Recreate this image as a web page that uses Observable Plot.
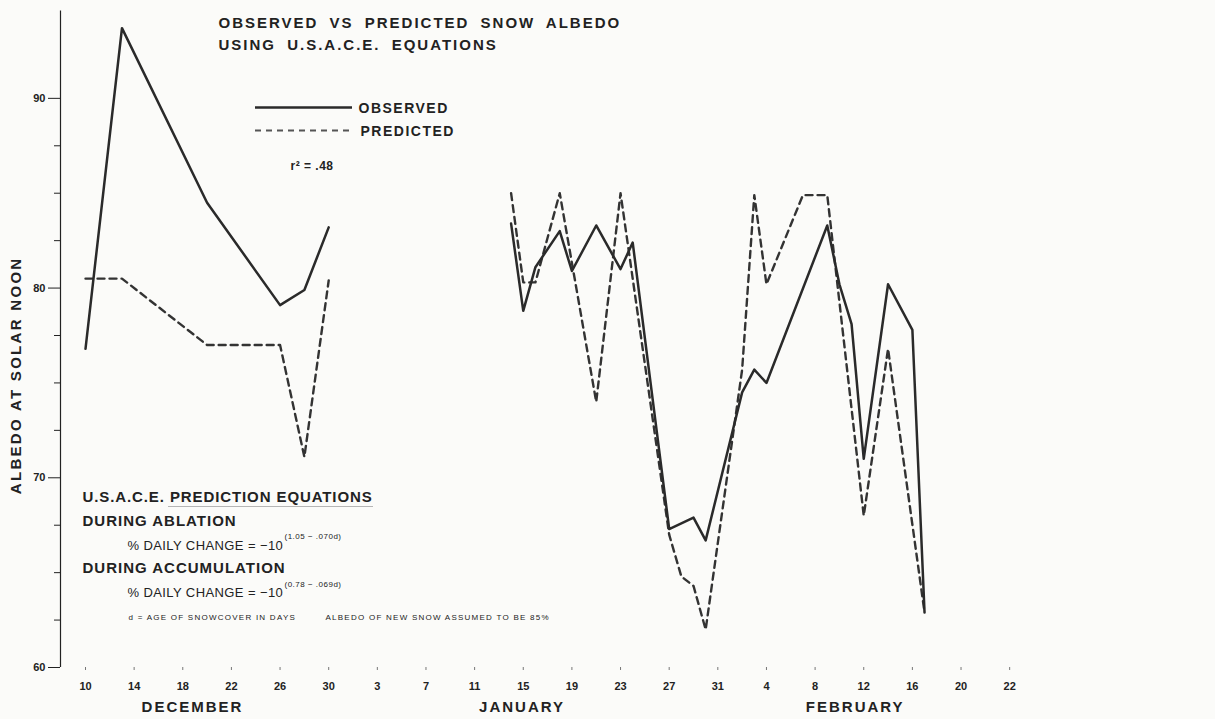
<!DOCTYPE html>
<html><head><meta charset="utf-8">
<script src="https://cdn.jsdelivr.net/npm/d3@7"></script>
<script src="https://cdn.jsdelivr.net/npm/@observablehq/plot@0.6"></script>
<style>
html,body{margin:0;padding:0;background:#fbfbf9;}
#chart{width:1215px;height:719px;overflow:hidden;}
</style></head><body><div id="chart"></div>
<script>
// x = days after December 10 (readings from the figure)
const observedDays   = [0, 3, 10, 16, 18, 20, 27, 35, 36, 37, 39, 40, 42, 44, 45, 48, 50, 51, 54, 55, 56, 61, 62, 63, 64, 66, 68, 69];
const observedAlbedo = [76.8, 93.7, 84.5, 79.1, 79.9, 83.2, null, 83.4, 78.8, 81.1, 83.0, 80.9, 83.3, 81.0, 82.4, 67.3, 67.9, 66.7, 74.5, 75.7, 75.0, 83.3, 80.2, 78.1, 71.0, 80.2, 77.8, 62.9];
const predictedDays   = [0, 3, 10, 16, 18, 20, 27, 35, 36, 37, 39, 42, 44, 48, 49, 50, 51, 54, 55, 56, 59, 61, 64, 66, 69];
const predictedAlbedo = [80.5, 80.5, 77.0, 77.0, 71.1, 80.4, null, 85.0, 80.3, 80.3, 85.0, 74.0, 85.0, 67.0, 64.8, 64.3, 62.0, 75.7, 84.9, 80.2, 84.9, 84.9, 68.0, 76.8, 62.9];

const tickDays   = [0, 4, 8, 12, 16, 20, 24, 28, 32, 36, 40, 44, 48, 52, 56, 60, 64, 68, 72, 76];
const tickLabels = ["10","14","18","22","26","30","3","7","11","15","19","23","27","31","4","8","12","16","20","22"];
const monthNames   = ["DECEMBER", "JANUARY", "FEBRUARY"];
const monthCenters = [8.8, 35.9, 63.3];
const yMajor = [60, 70, 80, 90];
const yMinor = [62.5, 65, 67.5, 72.5, 75, 77.5, 82.5, 85, 87.5];

const observed  = observedDays.map((d, i) => ({day: d, albedo: observedAlbedo[i]}));
const predicted = predictedDays.map((d, i) => ({day: d, albedo: predictedAlbedo[i]}));
const labelMap = new Map(tickDays.map((d, i) => [d, tickLabels[i]]));

const W = 1215, H = 719, ML = 60, MR = 130, MT = 3, MB = 52;
const K = 12.16;                       // px per day
const xMin = -25 / K, xMax = xMin + (W - ML - MR) / K;
const yLo = 60, yHi = 95;
const invX = px => xMin + (px - ML) / K;
const invY = py => yHi - (py - MT) * (yHi - yLo) / (H - MT - MB);
const ink = "#222";
const font = "Liberation Sans, Arial, Helvetica, sans-serif";

const spacing = new Map();   // text -> letter-spacing
function label(t, x, y, o = {}, ls = null) {
  if (ls) spacing.set(t, ls);
  return Plot.text([t], {frameAnchor: "top-left", dx: x - ML, dy: y - MT, text: d => d,
    textAnchor: "start", lineAnchor: "middle", fill: ink, ...o});
}
monthNames.forEach(m => spacing.set(m, "2px"));
spacing.set("ALBEDO AT SOLAR NOON", "2.3px");

const plot = Plot.plot({
  width: W, height: H,
  marginLeft: ML, marginRight: MR, marginTop: MT, marginBottom: MB,
  style: {background: "#fbfbf9", fontFamily: font, color: ink},
  x: {domain: [xMin, xMax]},
  y: {domain: [yLo, yHi]},
  marks: [
    Plot.ruleX([xMin], {y1: 60, y2: 94.6, stroke: ink, strokeWidth: 1.2}),
    Plot.axisY({ticks: yMajor, tickSize: 12, tickPadding: 3, fontWeight: "bold", fontSize: 11, label: null, stroke: ink}),
    Plot.axisY({ticks: yMinor, tickSize: 6, tickFormat: () => "", label: null, stroke: ink}),
    Plot.axisX({ticks: tickDays, tickFormat: d => labelMap.get(d), tickSize: 3, tickPadding: 12,
      fontWeight: "bold", fontSize: 11, label: null, stroke: "#777"}),
    Plot.text(monthNames.map((m, i) => ({m, x: monthCenters[i]})), {x: "x", text: "m", frameAnchor: "bottom",
      dy: 44, fontWeight: "bold", fontSize: 15, fill: ink}),
    Plot.text(["ALBEDO AT SOLAR NOON"], {y: [75.4], text: d => d, frameAnchor: "left", dx: -44, rotate: -90,
      textAnchor: "middle", fontWeight: "bold", fontSize: 15, fill: ink}),
    // title
    label("OBSERVED VS PREDICTED SNOW ALBEDO", 218, 23, {fontWeight: "bold", fontSize: 15}, "2px"),
    label("USING U.S.A.C.E. EQUATIONS", 218, 45, {fontWeight: "bold", fontSize: 15}, "2px"),
    // legend
    Plot.ruleY([invY(107)], {x1: invX(255), x2: invX(352), stroke: "#2a2a2a", strokeWidth: 2.5}),
    Plot.ruleY([invY(130)], {x1: invX(255), x2: invX(352), stroke: "#555", strokeWidth: 2, strokeDasharray: "6,5"}),
    label("OBSERVED", 358, 108, {fontWeight: "bold", fontSize: 14}, "1.5px"),
    label("PREDICTED", 360, 131, {fontWeight: "bold", fontSize: 14}, "1.5px"),
    label("r² = .48", 290, 166, {fontWeight: "bold", fontSize: 12}, "0.5px"),
    // equations block
    label("U.S.A.C.E. PREDICTION EQUATIONS", 82, 497, {fontWeight: "bold", fontSize: 15}, "0.9px"),
    Plot.ruleY([invY(506)], {x1: invX(168), x2: invX(373), stroke: "#b5b5b5", strokeWidth: 1}),
    label("DURING ABLATION", 82, 521, {fontWeight: "bold", fontSize: 15}, "1px"),
    label("% DAILY CHANGE = −10", 127, 545, {fontSize: 13}, "0.4px"),
    label("(1.05 − .070d)", 284, 536, {fontSize: 8}, "0.5px"),
    label("DURING ACCUMULATION", 82, 568, {fontWeight: "bold", fontSize: 15}, "1px"),
    label("% DAILY CHANGE = −10 ", 127, 592, {fontSize: 13}, "0.4px"),
    label("(0.78 − .069d)", 284, 584, {fontSize: 8}, "0.5px"),
    label("d = AGE OF SNOWCOVER IN DAYS", 128, 617, {fontSize: 8}, "1.25px"),
    label("ALBEDO OF NEW SNOW ASSUMED TO BE 85%", 325, 617, {fontSize: 8}, "1.25px"),
    // data
    Plot.line(predicted, {x: "day", y: "albedo", stroke: "#333", strokeWidth: 2.4, strokeDasharray: "7,5"}),
    Plot.line(observed, {x: "day", y: "albedo", stroke: "#2a2a2a", strokeWidth: 2.5})
  ]
});

plot.querySelectorAll("text").forEach(t => {
  const key = t.textContent;
  if (spacing.has(key)) t.style.letterSpacing = spacing.get(key);
  else if (spacing.has(key.trim())) t.style.letterSpacing = spacing.get(key.trim());
  if (key.startsWith("OBSERVED VS") || key.startsWith("USING")) t.style.wordSpacing = "5px";
});
document.getElementById("chart").appendChild(plot);
</script>
</body></html>
